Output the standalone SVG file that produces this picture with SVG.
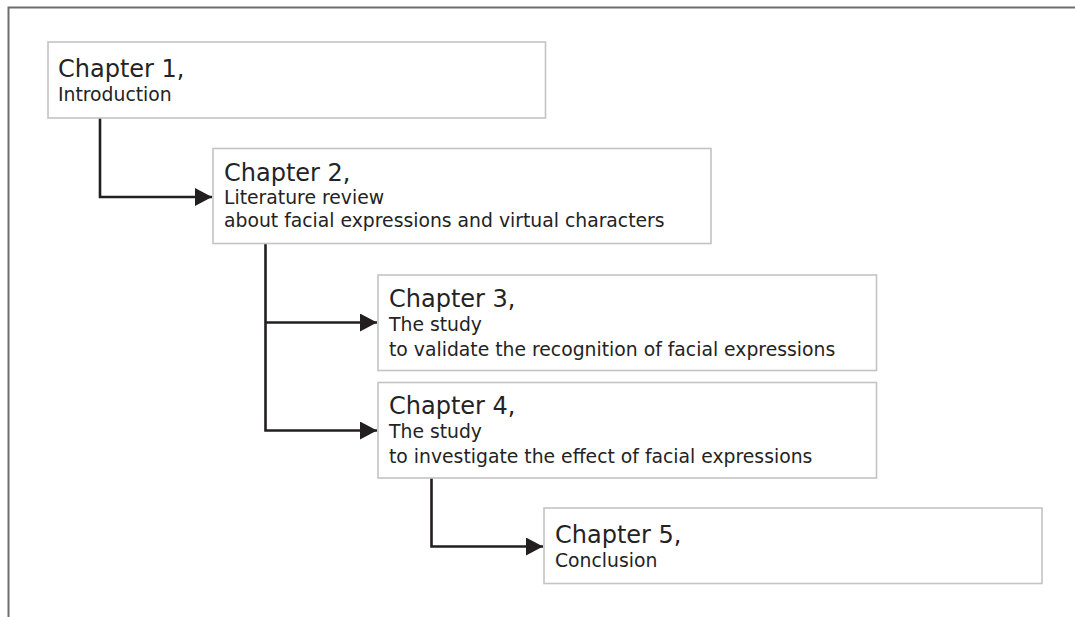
<svg xmlns="http://www.w3.org/2000/svg" width="1075" height="617" viewBox="0 0 1075 617">
  <defs>
    <style>
      .box { fill: #ffffff; stroke: #c4c4c4; stroke-width: 1.6; }
      .frame { fill: none; stroke: #6e6e6e; stroke-width: 2; }
      .title { font-family: "DejaVu Sans", Verdana, sans-serif; font-size: 24px; fill: #232323; }
      .sub { font-family: "DejaVu Sans", Verdana, sans-serif; font-size: 18.8px; fill: #232323; }
      .conn { fill: none; stroke: #231f20; stroke-width: 2.6; }
    </style>
    <marker id="arrow" viewBox="0 0 17 18" refX="17" refY="9" markerWidth="17" markerHeight="18" markerUnits="userSpaceOnUse" orient="auto">
      <path d="M0,0 L17,9 L0,18 Z" fill="#231f20"/>
    </marker>
  </defs>
  <rect width="1075" height="617" fill="#ffffff"/>
  <path class="frame" d="M8.5,617 L8.5,7.5 L1075,7.5"/>

  <g id="connectors">
    <path class="conn" d="M100,118 L100,197 L212,197" marker-end="url(#arrow)"/>
    <path class="conn" d="M265.5,244 L265.5,430.5 L377,430.5" marker-end="url(#arrow)"/>
    <path class="conn" d="M265.5,322.5 L377,322.5" marker-end="url(#arrow)"/>
    <path class="conn" d="M431.5,478 L431.5,546.5 L543,546.5" marker-end="url(#arrow)"/>
  </g>

  <g id="chapter1">
    <rect class="box" x="48" y="42" width="497.5" height="76"/>
    <text class="title" x="58" y="77">Chapter 1,</text>
    <text class="sub" x="58" y="101">Introduction</text>
  </g>

  <g id="chapter2">
    <rect class="box" x="213" y="148.5" width="498" height="95"/>
    <text class="title" x="224" y="181">Chapter 2,</text>
    <text class="sub" x="224" y="204">Literature review</text>
    <text class="sub" x="224" y="227">about facial expressions and virtual characters</text>
  </g>

  <g id="chapter3">
    <rect class="box" x="378" y="275" width="498.5" height="95.5"/>
    <text class="title" x="389" y="307">Chapter 3,</text>
    <text class="sub" x="389" y="331">The study</text>
    <text class="sub" x="389" y="356">to validate the recognition of facial expressions</text>
  </g>

  <g id="chapter4">
    <rect class="box" x="378" y="382.5" width="498.5" height="95.5"/>
    <text class="title" x="389" y="414">Chapter 4,</text>
    <text class="sub" x="389" y="438">The study</text>
    <text class="sub" x="389" y="463">to investigate the effect of facial expressions</text>
  </g>

  <g id="chapter5">
    <rect class="box" x="544" y="508" width="498" height="75.5"/>
    <text class="title" x="555" y="543">Chapter 5,</text>
    <text class="sub" x="555" y="567">Conclusion</text>
  </g>
</svg>
